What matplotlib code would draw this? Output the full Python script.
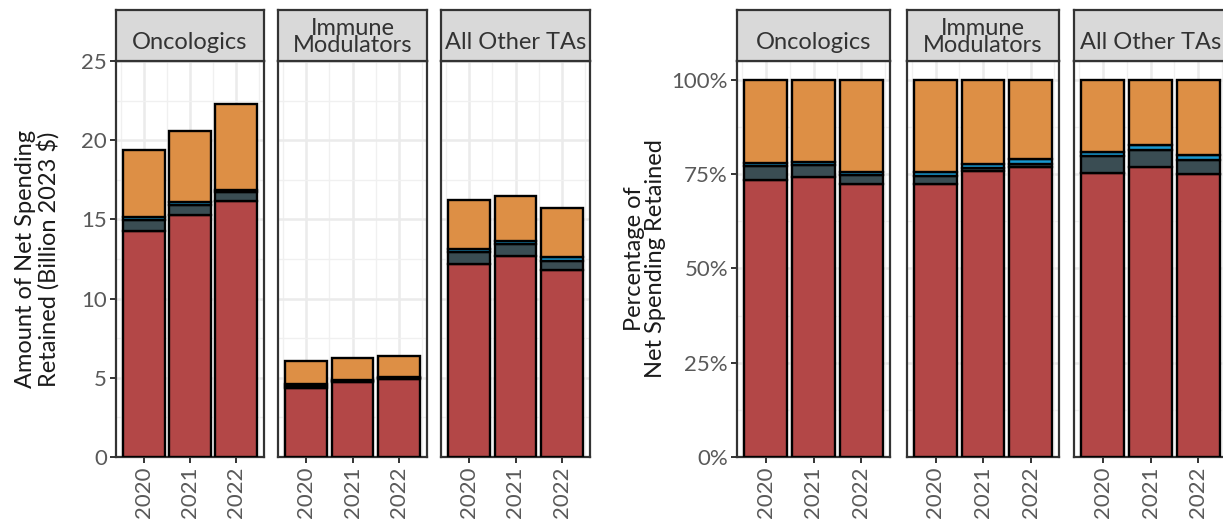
import numpy as np
import matplotlib.pyplot as plt
from matplotlib.ticker import MultipleLocator, FixedLocator, PercentFormatter

plt.rcParams['font.family'] = ['Lato', 'DejaVu Sans']

years = ['2020', '2021', '2022']
areas = ['Oncologics', 'Immune\nModulators', 'All Other TAs']

# total net spending retained (billion 2023 $), one row per area, columns = years
totals = [[19.4, 20.6, 22.3],
          [6.05, 6.25, 6.4],
          [16.2, 16.5, 15.75]]

# share of the total held by each component (%), stacked bottom -> top
pct_red = [[73.4, 74.3, 72.5],
           [72.5, 75.8, 76.9],
           [75.4, 77.0, 75.0]]
pct_slate = [[3.7, 3.0, 2.4],
             [2.0, 0.9, 0.9],
             [4.3, 4.4, 3.7]]
pct_blue = [[0.9, 1.0, 0.8],
            [1.2, 1.1, 1.1],
            [1.2, 1.2, 1.3]]
pct_orange = [[22.0, 21.7, 24.3],
              [24.3, 22.2, 21.1],
              [19.1, 17.4, 20.0]]

layers = [pct_red, pct_slate, pct_blue, pct_orange]
colors = ['#b34747', '#3a4d53', '#1898cf', '#dd8f45']

W, H = 1223, 525
fig = plt.figure(figsize=(W / 100, H / 100), dpi=100)


def box(x0, x1, y0, y1):
    return [x0 / W, 1 - y1 / H, (x1 - x0) / W, (y1 - y0) / H]


left_cols = [(116, 264), (278, 427), (441, 590)]
right_cols = [(737, 890), (907, 1059), (1074, 1227)]
PTOP, PBOT, STOP = 61, 457, 10
border = '#333333'
tick_col = '#595959'


def draw_facet(cols, i, as_pct):
    x0, x1 = cols[i]
    ax = fig.add_axes(box(x0, x1, PTOP, PBOT))
    xs = np.arange(len(years))
    bottom = np.zeros(len(years))
    tot = np.array(totals[i])
    for vals, c in zip(layers, colors):
        v = np.array(vals[i]) / 100
        h = v if as_pct else v * tot
        ax.bar(xs, h, width=0.9, bottom=bottom, color=c,
               edgecolor='black', linewidth=1.7, zorder=3)
        bottom += h
    ax.set_xlim(-0.6, 2.6)
    if as_pct:
        ax.set_ylim(0, 1.05)
        ax.yaxis.set_major_locator(FixedLocator([0, 0.25, 0.5, 0.75, 1.0]))
        ax.yaxis.set_minor_locator(FixedLocator([0.125, 0.375, 0.625, 0.875]))
        ax.yaxis.set_major_formatter(PercentFormatter(1.0, decimals=0))
    else:
        ax.set_ylim(0, 25)
        ax.yaxis.set_major_locator(MultipleLocator(5))
        ax.yaxis.set_minor_locator(MultipleLocator(2.5))
    ax.set_xticks(xs)
    ax.set_xticklabels(years, rotation=90)
    ax.xaxis.set_minor_locator(FixedLocator([-0.5, 0.5, 1.5, 2.5]))
    ax.grid(which='major', color='#ebebeb', linewidth=1.8, zorder=0)
    ax.grid(which='minor', color='#f0f0f0', linewidth=1.0, zorder=0)
    ax.set_axisbelow(True)
    ax.tick_params(which='minor', length=0)
    ax.tick_params(axis='x', which='major', length=4.5, width=1.4,
                   color=border, labelcolor=tick_col, labelsize=16, pad=2)
    if i == 0:
        ax.tick_params(axis='y', which='major', length=4.5, width=1.4,
                       color=border, labelcolor=tick_col, labelsize=16, pad=2)
    else:
        ax.tick_params(axis='y', which='major', length=0, labelleft=False)
    for s in ax.spines.values():
        s.set_color(border)
        s.set_linewidth(1.6)

    # facet strip
    sx = fig.add_axes(box(x0, x1, STOP, PTOP))
    sx.set_facecolor('#d9d9d9')
    sx.set_xticks([])
    sx.set_yticks([])
    for s in sx.spines.values():
        s.set_color(border)
        s.set_linewidth(1.6)
    label = areas[i]
    ty = 0.47 if '\n' in label else 0.36
    sx.text(0.5, ty, label, ha='center', va='center', fontsize=17,
            color='#333333', linespacing=0.82, transform=sx.transAxes)
    return ax


for i in range(3):
    draw_facet(left_cols, i, as_pct=False)
    draw_facet(right_cols, i, as_pct=True)

ymid = 1 - (PTOP + PBOT) / 2 / H
fig.text(37 / W, ymid, 'Amount of Net Spending\nRetained (Billion 2023 $)',
         rotation=90, ha='center', va='center', multialignment='center',
         fontsize=17, color='#1a1a1a', linespacing=1.05)
fig.text(645 / W, ymid, 'Percentage of\nNet Spending Retained',
         rotation=90, ha='center', va='center', multialignment='center',
         fontsize=17, color='#1a1a1a', linespacing=1.05)

fig.savefig('out.png', dpi=100)
